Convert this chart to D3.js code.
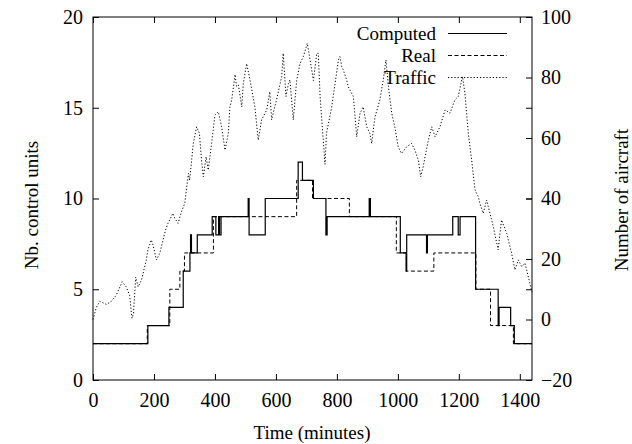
<!DOCTYPE html>
<html>
<head>
<meta charset="utf-8">
<script src="https://cdn.jsdelivr.net/npm/d3@7"></script>
<style>
  body { margin: 0; background: #fff; }
  svg text { font-family: "Liberation Serif", "Times New Roman", Times, "Nimbus Roman", "DejaVu Serif", "Noto Serif", serif; fill: #000; }
</style>
</head>
<body>
<div id="chart"></div>
<script>

// step series (time in minutes, value after the step)

var computedTimes = [0, 180, 249, 296, 318, 320, 323, 342, 391, 403, 412, 415, 420, 509, 512, 565, 673, 687, 723, 764, 768, 906, 910, 1008, 1027, 1029, 1094, 1097, 1180, 1198, 1204, 1255, 1329, 1332, 1370, 1382, 1440];
var computedUnits = [2, 3, 4, 6, 7, 8, 7, 8, 9, 8, 9, 8, 9, 10, 8, 10, 12, 11, 10, 8, 9, 10, 9, 7, 6, 8, 7, 8, 9, 8, 9, 5, 3, 4, 3, 2, 2];

var realTimes = [0, 178, 252, 285, 300, 395, 668, 720, 841, 995, 1028, 1118, 1256, 1304, 1379, 1440];
var realUnits = [2, 3, 5, 6, 7, 9, 11, 10, 9, 7, 6, 7, 5, 3, 2, 2];

// traffic (number of aircraft, right axis)

var trafficTimes = [0, 11, 22, 44, 60, 76, 96, 109, 120, 128, 133, 140, 148, 159, 175, 180, 191, 197, 208, 219, 238, 246, 262, 268, 279, 290, 301, 305, 313, 317, 329, 340, 349, 356, 362, 371, 378, 389, 400, 411, 422, 433, 444, 449, 455, 466, 471, 477, 488, 493, 504, 515, 531, 542, 553, 570, 580, 586, 591, 602, 619, 624, 633, 641, 646, 657, 668, 679, 690, 703, 712, 723, 734, 739, 745, 761, 766, 783, 794, 805, 810, 816, 821, 832, 837, 854, 865, 876, 886, 898, 908, 914, 925, 941, 952, 961, 969, 980, 990, 1001, 1012, 1029, 1045, 1056, 1067, 1075, 1083, 1100, 1111, 1122, 1138, 1155, 1171, 1187, 1198, 1212, 1220, 1231, 1242, 1253, 1264, 1269, 1280, 1291, 1313, 1329, 1340, 1357, 1373, 1384, 1395, 1406, 1417, 1428, 1440];
var trafficCount = [0, 4, 6, 5, 6, 8, 12.5, 10.8, 8, 0.4, 2, 14, 10.8, 13, 19.7, 23, 26.3, 24.6, 19.7, 21.9, 29.6, 31.8, 35.1, 33.5, 31.8, 35.6, 38.4, 41.8, 48.3, 46, 58.2, 63.7, 61.6, 52.7, 47.2, 53.8, 49.4, 58.2, 67.6, 68.7, 63.7, 56, 61.6, 70.3, 72.6, 81, 77, 77.5, 70.3, 78, 84.6, 79.2, 70.3, 59.3, 66, 69.3, 75.3, 66, 68.2, 72.6, 80.3, 88, 73.7, 78, 79.2, 66, 79, 84.6, 86.9, 91.3, 85.8, 79, 88, 88, 73.7, 51.3, 61.6, 70.3, 78, 85.8, 86.9, 83.6, 82.5, 79.2, 77, 73.7, 60.4, 68.2, 70.3, 63.7, 61.6, 58.2, 67, 72.6, 79.2, 85.8, 77, 68.2, 63.7, 57.1, 54.9, 57.1, 58.2, 56, 52.7, 47.2, 50.5, 59.3, 63.7, 60.4, 63.7, 69.3, 68.2, 72.6, 73.7, 80.3, 74.8, 61.6, 52.7, 42.8, 40.6, 38.4, 35.1, 39.5, 30.7, 23, 32.9, 28.5, 21.9, 16.4, 19.7, 17.5, 18.6, 14.1, 9];

// tick values

var xTicks = [0, 200, 400, 600, 800, 1000, 1200, 1400];
var yLeftTicks = [0, 5, 10, 15, 20];
var yRightTicks = [-20, 0, 20, 40, 60, 80, 100];

var seriesNames = ["Computed", "Real", "Traffic"];


// set size of chart area

var svgWidth = 632;
var svgHeight = 444;

var margin = {
	top: 17,
	right: 100,
	bottom: 64,
	left: 93
};

var width = 532 - margin.left;
var height = 380 - margin.top;

var svg = d3.select("#chart")
	.append("svg")
	.attr("width", svgWidth)
	.attr("height", svgHeight);

var chartGroup = svg.append("g")
	.attr("transform", `translate(${margin.left}, ${margin.top})`);

// scales

var xLinearScale = d3.scaleLinear().domain([0, 1440]).range([0, width]);
var yLeftScale = d3.scaleLinear().domain([0, 20]).range([height, 0]);
var yRightScale = d3.scaleLinear().domain([-20, 100]).range([height, 0]);

var fontSize = 20;
var labelSize = 19;
var plain = d3.format("d");

// axes with inward ticks

var bottomAxis = d3.axisBottom(xLinearScale).tickValues(xTicks).tickFormat(plain).tickSize(-6).tickSizeOuter(0).tickPadding(13);
var topAxis = d3.axisTop(xLinearScale).tickValues(xTicks).tickSize(-6).tickSizeOuter(0).tickFormat("");
var leftAxis = d3.axisLeft(yLeftScale).tickValues(yLeftTicks).tickFormat(plain).tickSize(-6).tickSizeOuter(0).tickPadding(10);
var rightAxis = d3.axisRight(yRightScale).tickValues(yRightTicks).tickFormat(plain).tickSize(-6).tickSizeOuter(0).tickPadding(9);
var rightMirror = d3.axisRight(yLeftScale).tickValues(yLeftTicks).tickSize(-6).tickSizeOuter(0).tickFormat("");

function styleAxis(g) {
	g.attr("font-family", null).attr("font-size", null);
	g.select(".domain").remove();
	g.selectAll("line").attr("stroke", "#000").attr("stroke-width", 1);
	g.selectAll("text")
		.style("font-size", fontSize + "px")
		.attr("fill", "#000");
}

chartGroup.append("g").attr("transform", `translate(0, ${height})`).call(bottomAxis).call(styleAxis);
chartGroup.append("g").call(topAxis).call(styleAxis);
chartGroup.append("g").call(leftAxis).call(styleAxis);
chartGroup.append("g").attr("transform", `translate(${width}, 0)`).call(rightAxis).call(styleAxis);
chartGroup.append("g").attr("transform", `translate(${width}, 0)`).call(rightMirror).call(styleAxis);

// border

chartGroup.append("rect")
	.attr("width", width)
	.attr("height", height)
	.attr("fill", "none")
	.attr("stroke", "#000")
	.attr("stroke-width", 1);

// lines

var stepLine = d3.line()
	.curve(d3.curveStepAfter)
	.x(d => xLinearScale(d[0]))
	.y(d => yLeftScale(d[1]));

var trafficLine = d3.line()
	.x(d => xLinearScale(d[0]))
	.y(d => yRightScale(d[1]));

var trafficData = d3.zip(trafficTimes, trafficCount);
var realData = d3.zip(realTimes, realUnits);
var computedData = d3.zip(computedTimes, computedUnits);

chartGroup.append("path")
	.datum(trafficData)
	.attr("d", trafficLine)
	.attr("fill", "none")
	.attr("stroke", "#000")
	.attr("stroke-width", 1)
	.attr("stroke-dasharray", "1.2,2");

chartGroup.append("path")
	.datum(realData)
	.attr("d", stepLine)
	.attr("fill", "none")
	.attr("stroke", "#000")
	.attr("stroke-width", 1)
	.attr("stroke-dasharray", "4,2.5");

chartGroup.append("path")
	.datum(computedData)
	.attr("d", stepLine)
	.attr("fill", "none")
	.attr("stroke", "#000")
	.attr("stroke-width", 1.2);

// legend

var legendDash = ["none", "4,2.5", "1.2,2"];

var legendGroup = svg.append("g");

seriesNames.forEach(function(name, i) {
	var ly = 33.5 + i * 22;
	legendGroup.append("text")
		.attr("x", 436)
		.attr("y", ly + 6.5)
		.attr("text-anchor", "end")
		.style("font-size", labelSize + "px")
		.text(name);
	legendGroup.append("line")
		.attr("x1", 448)
		.attr("x2", 507)
		.attr("y1", ly)
		.attr("y2", ly)
		.attr("stroke", "#000")
		.attr("stroke-width", 1)
		.attr("stroke-dasharray", legendDash[i]);
});

// axis labels

svg.append("text")
	.attr("transform", "translate(38, 205) rotate(-90)")
	.attr("text-anchor", "middle")
	.style("font-size", labelSize + "px")
	.text("Nb. control units");

svg.append("text")
	.attr("transform", "translate(628, 200) rotate(-90)")
	.attr("text-anchor", "middle")
	.style("font-size", labelSize + "px")
	.text("Number of aircraft");

svg.append("text")
	.attr("x", 312)
	.attr("y", 439)
	.attr("text-anchor", "middle")
	.style("font-size", labelSize + "px")
	.text("Time (minutes)");

</script>
</body>
</html>
